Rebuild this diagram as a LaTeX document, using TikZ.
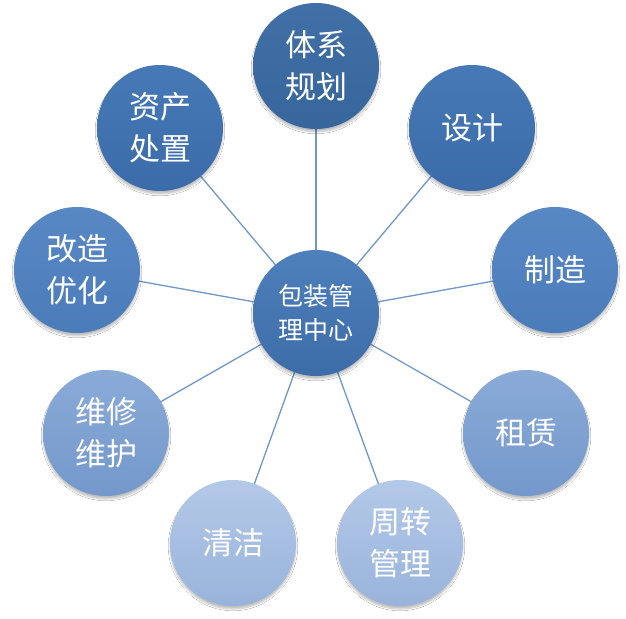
\documentclass[tikz,border=0pt]{standalone}
\usepackage{fontspec}
\newfontfamily\cjk{Noto Sans CJK SC}
\usetikzlibrary{shadows.blur}
\pgfdeclarelayer{background}
\pgfsetlayers{background,main}
\definecolor{spoke}{HTML}{6F97C8}
\definecolor{c1t}{HTML}{4070A6}\definecolor{c1b}{HTML}{37669C}
\definecolor{c2t}{HTML}{4679B6}\definecolor{c2b}{HTML}{3B6CA9}
\definecolor{c3t}{HTML}{5888C4}\definecolor{c3b}{HTML}{4B7CBA}
\definecolor{c4t}{HTML}{8AABD8}\definecolor{c4b}{HTML}{7498CB}
\definecolor{c5t}{HTML}{B4C9E8}\definecolor{c5b}{HTML}{98B3DB}
\definecolor{c0t}{HTML}{4E80BC}\definecolor{c0b}{HTML}{3D6DA9}
\tikzset{
  bubble/.style={circle, minimum size=126pt, inner sep=0pt, text=white,
    font=\cjk\fontsize{31}{42}\selectfont, align=center,
    blur shadow={shadow xshift=0pt, shadow yshift=-3pt, shadow blur steps=6, shadow opacity=25}},
  hub/.style={bubble, font=\cjk\fontsize{25}{34}\selectfont},
  c1/.style={top color=c1t, bottom color=c1b},
  c2/.style={top color=c2t, bottom color=c2b},
  c3/.style={top color=c3t, bottom color=c3b},
  c4/.style={top color=c4t, bottom color=c4b},
  c5/.style={top color=c5t, bottom color=c5b},
  c0/.style={top color=c0t, bottom color=c0b},
  spokeline/.style={draw=spoke, line width=1.3pt}
}
\begin{document}
\begin{tikzpicture}[x=1pt,y=-1pt]
\useasboundingbox (0,0) rectangle (626,618);
\node[hub,c0] (hub) at (316,313) {包装管\\理中心};
\node[bubble,c1] (n1) at (316,66) {体系\\规划};
\node[bubble,c2] (n2) at (472,128) {设计};
\node[bubble,c3] (n3) at (555,270) {制造};
\node[bubble,c4] (n4) at (526,433) {租赁};
\node[bubble,c5] (n5) at (400,543) {周转\\管理};
\node[bubble,c5] (n6) at (233,543) {清洁};
\node[bubble,c4] (n7) at (106,433) {维修\\维护};
\node[bubble,c3] (n8) at (77,270) {改造\\优化};
\node[bubble,c2] (n9) at (160,128) {资产\\处置};
\begin{pgfonlayer}{background}
\fill[white] (0,0) rectangle (626,618);
\foreach \n in {n1,n2,n3,n4,n5,n6,n7,n8,n9}{
  \draw[spokeline] (hub.center) -- (\n.center);
}
\end{pgfonlayer}
\end{tikzpicture}
\end{document}
